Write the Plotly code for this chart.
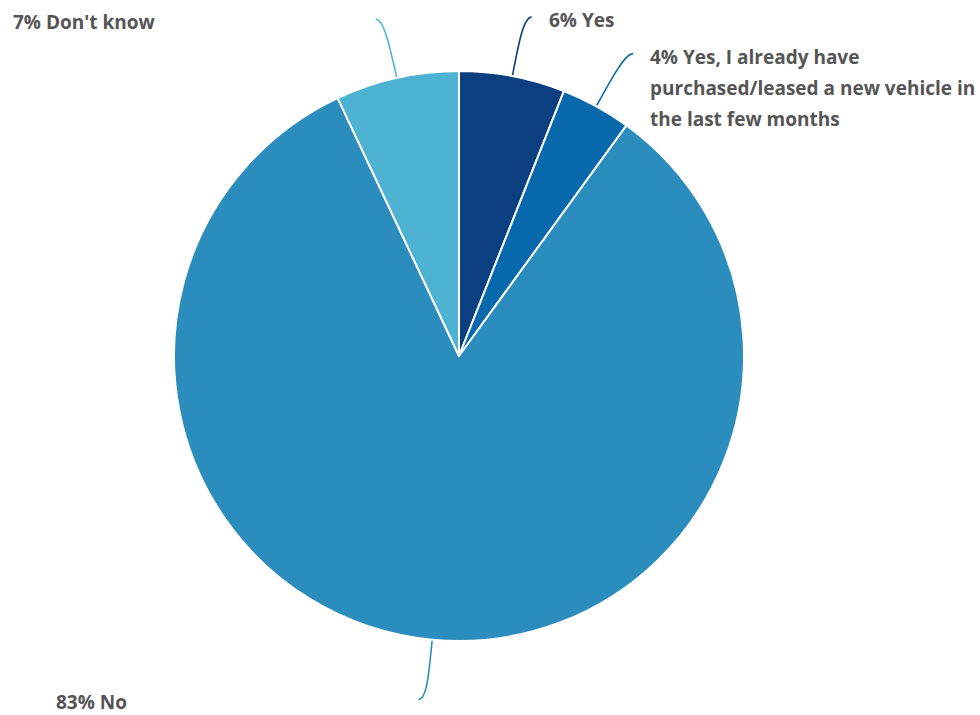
import math
import textwrap
import plotly.graph_objects as go

# Survey answers, in clockwise order from 12 o'clock
categories = [
    "Yes",
    "Yes, I already have purchased/leased a new vehicle in the last few months",
    "No",
    "Don't know",
]
values = [6, 4, 83, 7]
colors = ["#0b3f80", "#0868ac", "#2b8cbe", "#4eb3d3"]

# Layout constants (pixels)
W, H = 980, 715
CX, CY, R = 459, 356, 285
TEXT_COLOR = "#555555"
FONT = "Open Sans"
FONT_SIZE = 19
LINE_STEP = 31
LABEL_BOX = 350
LABEL_GAP = 15
WRAP = 33

fig = go.Figure()
fig.add_trace(go.Pie(
    labels=categories,
    values=values,
    sort=False,
    direction="clockwise",
    rotation=0,
    marker=dict(colors=colors, line=dict(color="white", width=2)),
    textinfo="none",
    hoverinfo="label+percent",
    showlegend=False,
    domain=dict(
        x=[(CX - R) / W, (CX + R) / W],
        y=[1 - (CY + R) / H, 1 - (CY - R) / H],
    ),
))

total = sum(values)
shapes = []
annotations = []
cum = 0
for name, v, col in zip(categories, values, colors):
    mid = (cum + v / 2) / total * 2 * math.pi
    cum += v
    s, c = math.sin(mid), math.cos(mid)
    side = 1 if s >= 0 else -1

    def at(r):
        return CX + r * s, CY - r * c

    # curved connector: radial run out of the slice, then a short hook sideways
    x0, y0 = at(R + 1)
    x1, y1 = at(R + 35)
    x2, y2 = at(R + 60)
    x3, y3 = x2 + side * 8, y2
    shapes.append(dict(
        type="path", xref="x", yref="y",
        path=f"M {x0},{y0} C {x1},{y1} {x2},{y2} {x3},{y3}",
        line=dict(color=col, width=1.6),
    ))

    text = f"{v}% {name}"
    lines = textwrap.wrap(text, width=WRAP)
    lx = x3 + LABEL_GAP if side > 0 else x3 - LABEL_GAP - LABEL_BOX
    for i, ln in enumerate(lines):
        annotations.append(dict(
            x=lx, y=y3 + 3 + i * LINE_STEP, xref="x", yref="y",
            text=f"<b>{ln}</b>", showarrow=False,
            xanchor="left", yanchor="middle",
            font=dict(family=FONT, size=FONT_SIZE, color=TEXT_COLOR),
        ))

fig.update_layout(
    width=W, height=H,
    margin=dict(l=0, r=0, t=0, b=0),
    paper_bgcolor="white",
    plot_bgcolor="rgba(0,0,0,0)",
    xaxis=dict(range=[0, W], visible=False, fixedrange=True),
    yaxis=dict(range=[H, 0], visible=False, fixedrange=True),
    shapes=shapes,
    annotations=annotations,
)

fig.write_html("out.html")
